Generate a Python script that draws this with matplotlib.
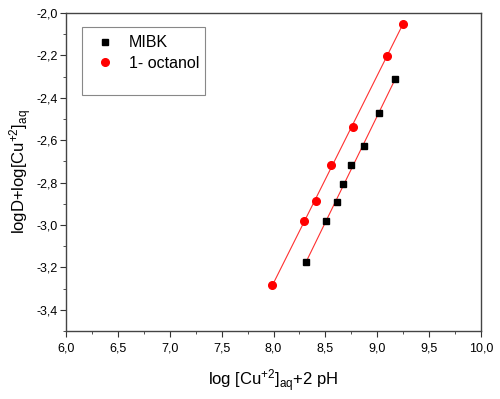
import numpy as np
import matplotlib
matplotlib.use('Agg')
import matplotlib.pyplot as plt
from matplotlib.ticker import MultipleLocator, FuncFormatter
from matplotlib.patches import Rectangle

plt.rcParams['font.family'] = ['Liberation Sans', 'DejaVu Sans']
plt.rcParams['mathtext.default'] = 'regular'

# Data
mibk_x = [8.31, 8.51, 8.61, 8.67, 8.75, 8.87, 9.02, 9.17]
mibk_y = [-3.175, -2.983, -2.890, -2.807, -2.717, -2.629, -2.471, -2.310]
oct_x = [7.99, 8.29, 8.41, 8.55, 8.77, 9.09, 9.25]
oct_y = [-3.284, -2.983, -2.887, -2.717, -2.536, -2.201, -2.050]

fig = plt.figure(figsize=(5, 3.99), dpi=100)
ax = fig.add_axes([0.132, 0.1704, 0.83, 0.797])

# linear fits drawn between the end points of each series
for xs, ys in [(mibk_x, mibk_y), (oct_x, oct_y)]:
    k, b = np.polyfit(xs, ys, 1)
    xx = np.array([min(xs), max(xs)])
    ax.plot(xx, k * xx + b, color='#ff3030', lw=0.8, zorder=1)

ax.plot(mibk_x, mibk_y, 's', color='black', ms=4.5, ls='none', label='MIBK', zorder=3)
ax.plot(oct_x, oct_y, 'o', color='red', ms=5.5, ls='none', label='1- octanol', zorder=3)

ax.set_xlim(6.0, 10.0)
ax.set_ylim(-3.5, -2.0)
ax.xaxis.set_major_locator(MultipleLocator(0.5))
ax.xaxis.set_minor_locator(MultipleLocator(0.25))
ax.yaxis.set_major_locator(MultipleLocator(0.2))
ax.yaxis.set_minor_locator(MultipleLocator(0.1))
comma = FuncFormatter(lambda v, p: f'{v:.1f}'.replace('.', ','))
ax.xaxis.set_major_formatter(comma)
ax.yaxis.set_major_formatter(comma)
ax.tick_params(which='both', direction='out', top=False, right=False, labelsize=9, color='#333333')
ax.tick_params(which='major', length=4.5)
ax.tick_params(which='minor', length=2.5)
ax.tick_params(axis='x', which='major', pad=4)
ax.tick_params(axis='y', which='major', pad=1.5)
for s in ax.spines.values():
    s.set_color('#444444')
    s.set_linewidth(1.0)

ax.set_xlabel('log [Cu$^{+2}$]$_{aq}$+2 pH', fontsize=12, labelpad=9)
ax.set_ylabel('logD+log[Cu$^{+2}$]$_{aq}$', fontsize=12, labelpad=2)

# legend box drawn separately, taller than the entries
ax.add_patch(Rectangle((0.0386, 0.742), 0.296, 0.214, transform=ax.transAxes,
                       fill=False, edgecolor='#888888', lw=0.8, zorder=4))
leg = ax.legend(loc='upper left', bbox_to_anchor=(0.052, 0.955), fontsize=11.5,
                frameon=False, borderpad=0.5, handletextpad=0.9,
                labelspacing=0.35, borderaxespad=0, handlelength=1.2)

fig.savefig('out.png', dpi=100)
